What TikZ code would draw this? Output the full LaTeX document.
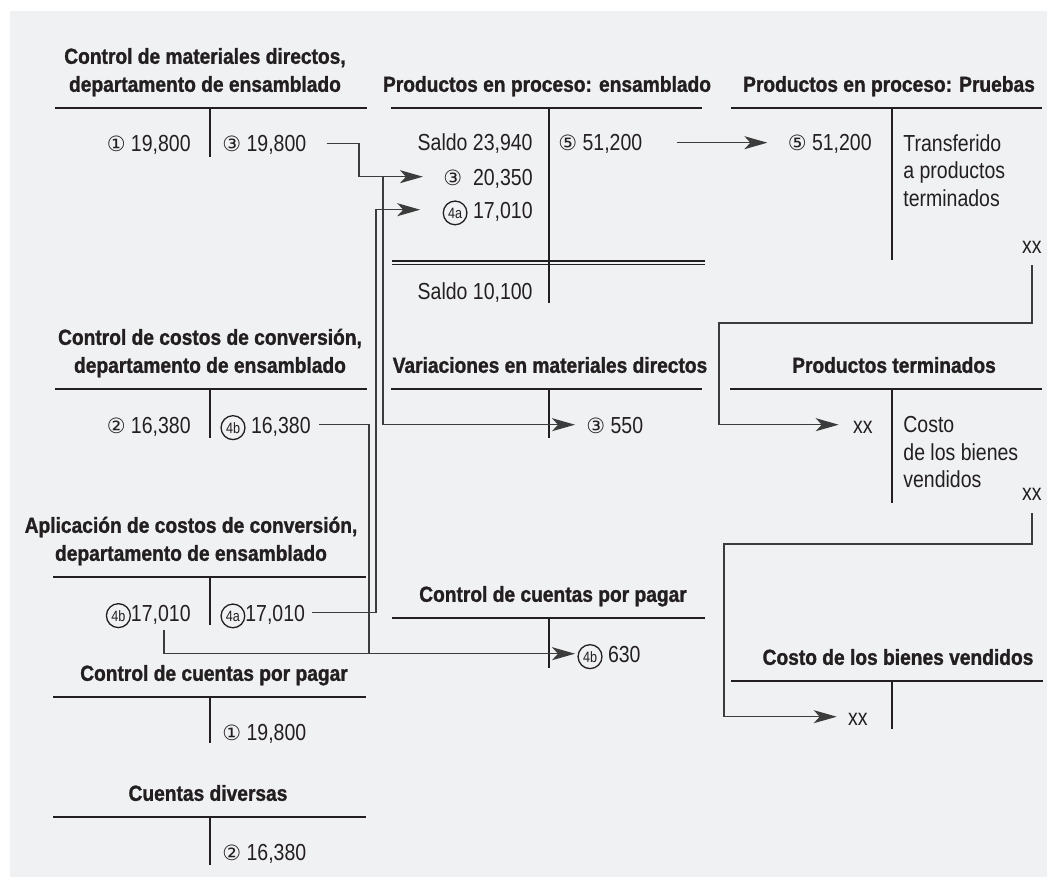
\documentclass[tikz,border=0pt]{standalone}
\usepackage{fontspec}
\setmainfont{Liberation Sans}
\newfontfamily\headfont[FakeStretch=0.88,BoldFeatures={FakeBold=1.2}]{Liberation Sans}
\newfontfamily\bodyfont[FakeStretch=0.84]{Liberation Sans}
\newfontfamily\symfont{DejaVu Sans}
\usetikzlibrary{arrows.meta,calc}

\definecolor{panel}{HTML}{F0F1F3}
\definecolor{ink}{HTML}{231F20}
\definecolor{wire}{HTML}{3C3C3C}

% circled numbers
\newcommand\cn[1]{{\symfont\fontsize{10.5}{10.5}\selectfont #1}}
\newcommand\cab[1]{\tikz[baseline=(cab.base)]\node[circle,draw=ink,line width=0.65pt,inner sep=1.1pt,text height={},text depth={},anchor=base,font=\bodyfont\fontsize{7.5}{7.5}\selectfont] (cab) {#1};}

\tikzset{
  account/.style = { font=\headfont\bfseries\fontsize{10.9}{14}\selectfont, text=ink, align=center, anchor=south, inner sep=0pt, text depth=2.2pt },
  tline/.style   = { line width=0.8pt, ink },
  debit/.style   = { font=\bodyfont\fontsize{11.6}{14}\selectfont, text=ink, anchor=base east, inner sep=0pt, text height=8.3pt, text depth=0pt },
  credit/.style  = { debit, anchor=base west },
  note/.style    = { font=\bodyfont\fontsize{11.6}{13.8}\selectfont, text=ink, align=left, anchor=north west, inner sep=0pt },
  link/.style    = { line width=0.75pt, wire },
  flow/.style    = { link, -{Stealth[length=11.5pt,width=6.5pt,inset=3pt]} },
}

\begin{document}
\begin{tikzpicture}[x=0.5pt,y=-0.5pt]
    \useasboundingbox (0,0) rectangle (1047,877);
    \fill[panel] (10,11) rectangle (1047,877);

    % Left column
    % materiales directos
    \node[account] (mdHead) at (205,96.6) {Control de materiales directos,\\departamento de ensamblado};
    \draw[tline] (55,108) -- (367,108) (210,108) -- (210,157);
    \node[debit]  (md1) at (191,152) {\cn{①} 19,800};
    \node[credit] (md3) at (222,152) {\cn{③} 19,800};

    % costos de conversion
    \node[account] (ccHead) at (210,377.6) {Control de costos de conversión,\\departamento de ensamblado};
    \draw[tline] (55,389) -- (367,389) (210,389) -- (210,438);
    \node[debit]  (cc2) at (191,433) {\cn{②} 16,380};
    \node[credit] (cc4b) at (220,433) {\cab{4b} 16,380};

    % aplicacion de costos
    \node[account] (apHead) at (191,565.6) {Aplicación de costos de conversión,\\departamento de ensamblado};
    \draw[tline] (53,577) -- (366,577) (210,577) -- (210,625);
    \node[debit]  (ap4b) at (191,621) {\cab{4b}17,010};
    \node[credit] (ap4a) at (220,621) {\cab{4a}17,010};

    % cuentas por pagar
    \node[account] (cpHead) at (214,685.6) {Control de cuentas por pagar};
    \draw[tline] (53,697) -- (366,697) (210,697) -- (210,743);
    \node[credit] (cp1) at (222,740) {\cn{①} 19,800};

    % cuentas diversas
    \node[account] (cdHead) at (208,805.6) {Cuentas diversas};
    \draw[tline] (53,817) -- (366,817) (210,817) -- (210,865);
    \node[credit] (cd2) at (222,860) {\cn{②} 16,380};

    % Middle column
    % productos en proceso: ensamblado
    \node[account] (peHead) at (547,96.6) {Productos en proceso: ensamblado};
    \draw[tline] (391,108) -- (702,108) (549,108) -- (549,303);
    \draw[tline] (392,261) -- (705,261) (392,264.5) -- (705,264.5);
    \node[debit]  (pe0) at (533,151) {Saldo 23,940};
    \node[debit]  (pe3) at (533,185) {\cn{③}\ \ 20,350};
    \node[debit]  (pe4a) at (533,218) {\cab{4a} 17,010};
    \node[debit]  (peS) at (533,299) {Saldo 10,100};
    \node[credit] (pe5) at (558,151) {\cn{⑤} 51,200};

    % variaciones
    \node[account] (vaHead) at (550,377.6) {Variaciones en materiales directos};
    \draw[tline] (391,389) -- (702,389) (549,389) -- (549,438);
    \node[credit] (va3) at (586,433) {\cn{③} 550};

    % cuentas por pagar
    \node[account] (cqHead) at (553,606.6) {Control de cuentas por pagar};
    \draw[tline] (392,618) -- (705,618) (549,618) -- (549,668);
    \node[credit] (cq4b) at (577,662) {\cab{4b} 630};

    % Right column
    % productos en proceso: pruebas
    \node[account] (prHead) at (889,96.6) {Productos en proceso: Pruebas};
    \draw[tline] (731,108) -- (1042,108) (892,108) -- (892,260);
    \node[debit] (pr5) at (872,151) {\cn{⑤} 51,200};
    \node[note]  (prTx) at (903,134) {Transferido\\a productos\\terminados};
    \node[debit] (prXX) at (1042,253) {xx};

    % productos terminados
    \node[account] (ptHead) at (894,377.6) {Productos terminados};
    \draw[tline] (730,389) -- (1042,389) (892,389) -- (892,503);
    \node[debit] (ptXX) at (873,433) {xx};
    \node[note]  (ptTx) at (903,416) {Costo\\de los bienes\\vendidos};
    \node[debit] (ptOut) at (1042,500) {xx};

    % costo de los bienes vendidos
    \node[account] (cvHead) at (898,669.6) {Costo de los bienes vendidos};
    \draw[tline] (731,681) -- (1043,681) (892,681) -- (892,729);
    \node[debit] (cvXX) at (868,725) {xx};

    % bend columns
    \coordinate (j3)  at (359,0);
    \coordinate (j3v) at (383,0);
    \coordinate (j4a) at (376,0);
    \coordinate (j4b) at (369,0);
    \coordinate (k1)  at (719,323);
    \coordinate (k2)  at (724,544);

    % connectors
    \draw[flow] ([xshift=10pt]md3.east) -| (j3 |- pe3.west) -- ([xshift=-10pt]pe3.west);
    \draw[flow] (j3v |- pe3.west) |- ([xshift=-5.5pt]va3.west);
    \draw[flow] ([xshift=3.5pt]ap4a.east) -| (j4a |- pe4a.west) -- ([xshift=-11pt]pe4a.west);
    \draw[link] ([xshift=4pt]cc4b.east) -| (j4b |- cq4b.west);
    \draw[flow] ([shift={(-27,9)}]ap4b.south east) |- ([xshift=-1pt]cq4b.west);
    \draw[flow] ([xshift=17pt]pe5.east) -- ([xshift=-10pt]pr5.west);
    \draw[flow] ([yshift=-6pt]prXX.south) |- (k1) |- ([xshift=-7pt]ptXX.west);
    \draw[flow] ([yshift=-6.5pt]ptOut.south) |- (k2) |- ([xshift=-5.5pt]cvXX.west);
\end{tikzpicture}
\end{document}
